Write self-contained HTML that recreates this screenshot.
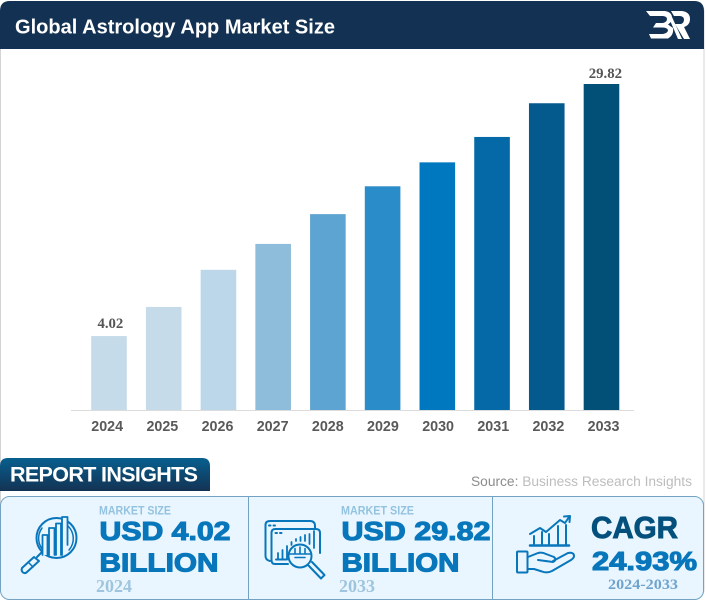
<!DOCTYPE html>
<html>
<head>
<meta charset="utf-8">
<title>Global Astrology App Market Size</title>
<style>
html,body{margin:0;padding:0;background:#fff;width:707px;height:601px;overflow:hidden}
svg{display:block}
text{font-family:"Liberation Sans",sans-serif}
.serif{font-family:"Liberation Serif",serif;font-weight:bold}
.heavy{font-weight:bold;fill:#0876bb;stroke:#0876bb;stroke-width:1.1px}
.ms{font-weight:bold;font-size:11.5px;fill:#93c3e0}
.ic{fill:none;stroke:#0876bb;stroke-width:2;stroke-linejoin:round;stroke-linecap:round}
</style>
</head>
<body>
<svg id="chart" width="707" height="601" viewBox="0 0 707 601" xmlns="http://www.w3.org/2000/svg">
  <defs>
    <linearGradient id="tabGrad" x1="0" y1="0" x2="0" y2="1">
      <stop offset="0" stop-color="#07608f"/>
      <stop offset="1" stop-color="#133253"/>
    </linearGradient>
  </defs>
  <rect x="0.5" y="1.5" width="703.5" height="598" rx="10" fill="#fff" stroke="#d4d4d4"/>
  <path d="M0 49V11Q0 1 10 1H694Q704 1 704 11V49Z" fill="#133253"/>
  <text x="15" y="33.500" font-size="20" font-weight="bold" fill="#fff" textLength="320" lengthAdjust="spacingAndGlyphs">Global Astrology App Market Size</text>
  <g fill="#fff" stroke="none">
    <path d="M646 11H665Q672 12 672 18Q672 22 668 24.500L673 28Q674 35 668 38.500H651L649 34H663Q668 33 668 30Q667 27.500 662 27.500H653L656 23H663Q667 22 667 19Q667 16.500 663 16H650Z"/>
    <path d="M671 11H682Q690 12 690 19Q690 25 684 27L690 39H684L675 24H681Q684 23 684 19.500Q684 16.500 680 16H674Z"/>
    <path d="M669 18L672 17L682 39H678Z"/>
  </g>

  <g id="plot"></g>

  <path d="M0 491V466Q0 458 8 458H202Q210 458 210 466V491Z" fill="url(#tabGrad)"/>
  <text x="10" y="481.500" font-size="21.500" font-weight="bold" fill="#fff" textLength="188" lengthAdjust="spacing">REPORT INSIGHTS</text>
  <text x="471" y="486" font-size="13.500" textLength="221" lengthAdjust="spacingAndGlyphs"><tspan fill="#8c8c8c">Source:</tspan><tspan fill="#bdbdbd"> Business Research Insights</tspan></text>

  <rect x="0.500" y="496.500" width="703" height="103" rx="9" fill="#e9f6ff" stroke="#74a3c1"/>
  <line x1="248.500" y1="497" x2="248.500" y2="599" stroke="#74a3c1"/>
  <line x1="492.500" y1="497" x2="492.500" y2="599" stroke="#74a3c1"/>

  <g>
    <text class="ms" x="99" y="514.500" textLength="72" lengthAdjust="spacingAndGlyphs">MARKET SIZE</text>
    <text class="heavy" x="99.500" y="540" font-size="25.500" textLength="131" lengthAdjust="spacingAndGlyphs">USD 4.02</text>
    <text class="heavy" x="99.500" y="571.500" font-size="25.500" textLength="119" lengthAdjust="spacingAndGlyphs">BILLION</text>
    <text class="serif" x="96" y="592" font-size="18" fill="#9fc5de">2024</text>
  </g>
  <g class="ic">
    <circle cx="56.500" cy="538" r="20"/>
    <path d="M42 528A17.500 17.500 0 0 0 44 551M68 526A17.500 17.500 0 0 1 69 550" stroke-width="1.500"/>
    <path d="M42.500 555V535H47.500V555M49 555V528H54.500V555M56 555V523.500H61V555M62 555V517H67.500V545" stroke-width="1.800" fill="#e9f6ff"/>
    <path d="M42 552L37 557"/>
    <path d="M34 557L22 568Q21 571 23 572.500Q25 574 27 572L39 561Z"/>
    <path d="M29 563L33 567" stroke-width="1.500"/>
  </g>

  <g>
    <text class="ms" x="341" y="514.500" textLength="73" lengthAdjust="spacingAndGlyphs">MARKET SIZE</text>
    <text class="heavy" x="341.500" y="540" font-size="25.500" textLength="149" lengthAdjust="spacingAndGlyphs">USD 29.82</text>
    <text class="heavy" x="341.500" y="571.500" font-size="25.500" textLength="118" lengthAdjust="spacingAndGlyphs">BILLION</text>
    <text class="serif" x="339" y="592" font-size="18" fill="#9fc5de">2033</text>
  </g>
  <g class="ic">
    <path d="M270 561Q265.500 560 265.500 556V525Q265.500 521 270 521H310Q315 521 315 526V529"/>
    <path d="M288 564H275Q271.500 564 271.500 560V533Q271.500 529 275 529H316Q320 529 320 533V553"/>
    <path d="M269 525.500H277M275.500 533H283" stroke-dasharray="1.500 3"/>
    <path d="M278 559V553M282.500 559V550M287 559V546M291.500 545V542M296 541V539M300.500 541V537M305 541V535M309.500 544V534M314 548V531" stroke-width="1.800"/>
    <line x1="276" y1="559.500" x2="287" y2="559.500"/>
    <circle cx="300" cy="556" r="11.500"/>
    <path d="M290 554H310M295 554V548.500M300 554V547M305 554V548.500M295 557.500H305" stroke-width="1.600"/>
    <path d="M308 565L321 578.500L324.500 575L312 562" fill="#e9f6ff"/>
  </g>

  <g>
    <text x="591" y="538" font-size="30.500" font-weight="bold" fill="#04507d" stroke="#04507d" stroke-width=".9" textLength="87" lengthAdjust="spacingAndGlyphs">CAGR</text>
    <text class="heavy" x="592" y="570" font-size="26" textLength="105" lengthAdjust="spacingAndGlyphs">24.93%</text>
    <text class="serif" x="608" y="589" font-size="14.500" fill="#6fa3cc" textLength="70" lengthAdjust="spacingAndGlyphs">2024-2033</text>
  </g>
  <g class="ic">
    <path d="M530 534L540 528L546 532L560 520L565 523L569 517M564 516.500L570 516L569.500 522"/>
    <path d="M534 544V536M542 544V532M549 544V534M558 544V526M566 544V525"/>
    <path d="M530 545.500H569" stroke-width="2.500"/>
    <rect x="517" y="551.500" width="10.500" height="21" rx="1"/>
    <path d="M528 557L538 553Q542 552 546 554L554 557Q557 560 553 562L538 560M553 561L568 553Q574 552 574 556Q574 558 571 560L552 571Q547 573.500 542 571.500L534 569H528"/>
  </g>
</svg>
<script>
var categories = ["2024","2025","2026","2027","2028","2029","2030","2031","2032","2033"];
var seriesValues = [4.02,7.0,10.8,13.45,16.5,19.35,21.8,24.4,27.85,29.82];
var printedValues = ["4.02",null,null,null,null,null,null,null,null,"29.82"];
var barColors = ["#c5dbea","#c5dbea","#bcd7e9","#8ebcdb","#5ea4d2","#2b8cca","#0078bf","#0569a7","#04598d","#025077"];

var NS = "http://www.w3.org/2000/svg";
var plot = document.getElementById("plot");
var domainMin = -3.6, domainMax = 29.82;
var baselineY = 410.5, topY = 84;
var firstCenter = 109, step = 54.72, barWidth = 35.6;
var tickFirst = 107.2, tickStep = 55.15;
var labelFirst = 110.4, labelStep = 55;

function xScale(i) { return firstCenter + step * i; }
function tickScale(i) { return tickFirst + tickStep * i; }
function labelScale(i) { return labelFirst + labelStep * i; }
function yScale(v) { return baselineY - (v - domainMin) / (domainMax - domainMin) * (baselineY - topY); }

categories.forEach(function (cat, i) {
  var rect = document.createElementNS(NS, "rect");
  
  
  var y = yScale(seriesValues[i]);
  rect.setAttribute("x", xScale(i) - barWidth / 2);
  rect.setAttribute("y", y);
  rect.setAttribute("width", barWidth);
  rect.setAttribute("height", baselineY - y);
  rect.setAttribute("fill", barColors[i]);
  plot.appendChild(rect);

  var tick = document.createElementNS(NS, "text");
  
  
  tick.setAttribute("x", tickScale(i));
  tick.setAttribute("y", 431);
  tick.setAttribute("text-anchor", "middle");
  tick.setAttribute("font-size", "14.3");
  tick.setAttribute("font-weight", "bold");
  tick.setAttribute("fill", "#595959");
  tick.textContent = cat;
  plot.appendChild(tick);

  if (printedValues[i]) {
    var label = document.createElementNS(NS, "text");
    
    
    label.setAttribute("class", "serif");
    label.setAttribute("x", labelScale(i));
    label.setAttribute("y", y - (i === 0 ? 8 : 6));
    label.setAttribute("text-anchor", "middle");
    label.setAttribute("font-size", "14.8");
    label.setAttribute("fill", "#555");
    label.textContent = printedValues[i];
    plot.appendChild(label);
  }
});

var axis = document.createElementNS(NS, "line");


axis.setAttribute("x1", 71);
axis.setAttribute("x2", 634);
axis.setAttribute("y1", baselineY);
axis.setAttribute("y2", baselineY);
axis.setAttribute("stroke", "#dcdcdc");
plot.appendChild(axis);
</script>
</body>
</html>
